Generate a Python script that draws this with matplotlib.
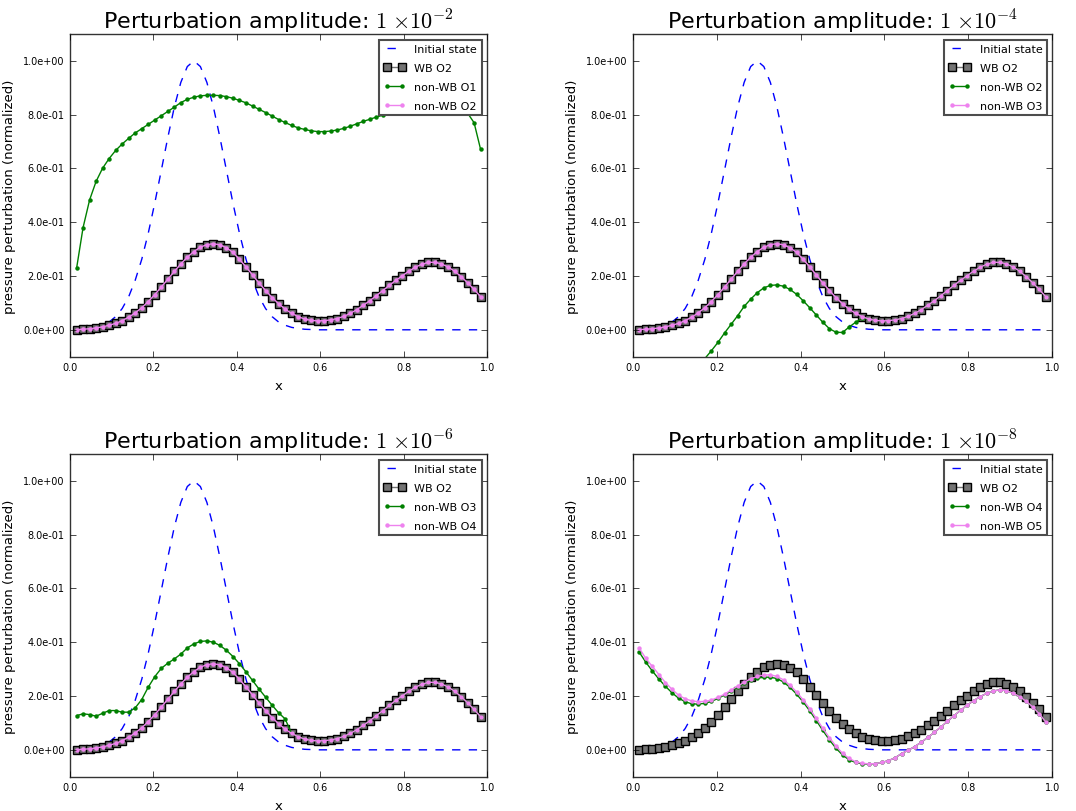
import numpy as np
import matplotlib
matplotlib.use("Agg")
import matplotlib.pyplot as plt
import matplotlib.ticker as mticker

plt.style.use("classic")
plt.rcParams.update({
    "figure.facecolor": "white",
    "savefig.facecolor": "white",
    "mathtext.fontset": "cm",
    "font.family": "DejaVu Sans",
})

# ── Data ──────────────────────────────────────────────────────────────────────
X = [0.0156, 0.0312, 0.0469, 0.0625, 0.0781, 0.0938, 0.1094, 0.1250, 0.1406, 0.1562,
     0.1719, 0.1875, 0.2031, 0.2188, 0.2344, 0.2500, 0.2656, 0.2812, 0.2969, 0.3125,
     0.3281, 0.3438, 0.3594, 0.3750, 0.3906, 0.4062, 0.4219, 0.4375, 0.4531, 0.4688,
     0.4844, 0.5000, 0.5156, 0.5312, 0.5469, 0.5625, 0.5781, 0.5938, 0.6094, 0.6250,
     0.6406, 0.6562, 0.6719, 0.6875, 0.7031, 0.7188, 0.7344, 0.7500, 0.7656, 0.7812,
     0.7969, 0.8125, 0.8281, 0.8438, 0.8594, 0.8750, 0.8906, 0.9062, 0.9219, 0.9375,
     0.9531, 0.9688, 0.9844]

INITIAL = [0.001, 0.002, 0.005, 0.009, 0.017, 0.029, 0.049, 0.079, 0.123, 0.184,
           0.262, 0.359, 0.471, 0.593, 0.715, 0.828, 0.920, 0.979, 1.000, 0.979,
           0.920, 0.828, 0.715, 0.593, 0.471, 0.359, 0.262, 0.184, 0.123, 0.079,
           0.049, 0.029, 0.017, 0.009, 0.005, 0.002, 0.001, 0.0, 0.0, 0.0,
           0.0, 0.0, 0.0, 0.0, 0.0, 0.0, 0.0, 0.0, 0.0, 0.0,
           0.0, 0.0, 0.0, 0.0, 0.0, 0.0, 0.0, 0.0, 0.0, 0.0,
           0.0, 0.0, 0.0]

WB_O2 = [0.001, 0.002, 0.004, 0.007, 0.011, 0.017, 0.024, 0.034, 0.047, 0.063,
         0.082, 0.105, 0.131, 0.159, 0.188, 0.217, 0.245, 0.270, 0.291, 0.307,
         0.317, 0.320, 0.316, 0.305, 0.288, 0.262, 0.234, 0.204, 0.174, 0.146,
         0.120, 0.097, 0.077, 0.061, 0.049, 0.040, 0.035, 0.033, 0.034, 0.037,
         0.042, 0.050, 0.061, 0.075, 0.091, 0.108, 0.127, 0.146, 0.165, 0.184,
         0.201, 0.218, 0.233, 0.244, 0.251, 0.251, 0.245, 0.234, 0.218, 0.198,
         0.175, 0.150, 0.123]

# amplitude 1e-2
NWB_O1 = [0.228, 0.380, 0.483, 0.552, 0.601, 0.637, 0.667, 0.691, 0.712, 0.732,
          0.748, 0.764, 0.780, 0.796, 0.812, 0.828, 0.845, 0.857, 0.865, 0.870,
          0.872, 0.872, 0.871, 0.867, 0.861, 0.853, 0.844, 0.832, 0.820, 0.808,
          0.795, 0.782, 0.771, 0.760, 0.751, 0.745, 0.740, 0.737, 0.737, 0.739,
          0.743, 0.749, 0.757, 0.766, 0.775, 0.783, 0.791, 0.798, 0.805, 0.812,
          0.820, 0.828, 0.836, 0.842, 0.846, 0.848, 0.847, 0.843, 0.836, 0.824,
          0.806, 0.770, 0.671]

# amplitude 1e-4 (first points lie below the visible range)
NWB_O2 = [-0.36, -0.33, -0.30, -0.28, -0.25, -0.23, -0.21, -0.19, -0.16, -0.135,
          -0.107, -0.078, -0.047, -0.012, 0.020, 0.052, 0.087, 0.114, 0.138, 0.156,
          0.165, 0.167, 0.162, 0.150, 0.132, 0.108, 0.082, 0.055, 0.028, 0.004,
          -0.009, -0.010, 0.010, 0.028, 0.043, 0.040, 0.035, 0.033, 0.034, 0.037,
          0.042, 0.050, 0.061, 0.075, 0.091, 0.108, 0.127, 0.146, 0.165, 0.184,
          0.201, 0.218, 0.233, 0.244, 0.251, 0.251, 0.245, 0.234, 0.218, 0.198,
          0.175, 0.150, 0.123]

# amplitude 1e-6
NWB_O3 = [0.127, 0.134, 0.131, 0.125, 0.136, 0.146, 0.146, 0.140, 0.140, 0.156,
          0.187, 0.233, 0.272, 0.303, 0.322, 0.338, 0.356, 0.379, 0.394, 0.403,
          0.405, 0.400, 0.388, 0.370, 0.347, 0.320, 0.290, 0.258, 0.226, 0.196,
          0.166, 0.138, 0.115, 0.062, 0.049, 0.040, 0.035, 0.033, 0.034, 0.037,
          0.042, 0.050, 0.061, 0.075, 0.091, 0.108, 0.127, 0.146, 0.165, 0.184,
          0.201, 0.218, 0.233, 0.244, 0.251, 0.251, 0.245, 0.234, 0.218, 0.198,
          0.175, 0.150, 0.123]

# amplitude 1e-8
NWB_O4 = [0.363, 0.326, 0.293, 0.263, 0.236, 0.212, 0.192, 0.179, 0.171, 0.170,
          0.173, 0.180, 0.191, 0.204, 0.218, 0.233, 0.247, 0.259, 0.266, 0.270,
          0.270, 0.265, 0.252, 0.232, 0.207, 0.178, 0.145, 0.109, 0.072, 0.037,
          0.006, -0.019, -0.037, -0.047, -0.052, -0.053, -0.051, -0.047, -0.040, -0.030,
          -0.014, -0.002, 0.012, 0.028, 0.046, 0.065, 0.085, 0.106, 0.127, 0.147,
          0.166, 0.183, 0.198, 0.210, 0.219, 0.223, 0.220, 0.211, 0.198, 0.181,
          0.160, 0.134, 0.104]

NWB_O5 = [0.378, 0.340, 0.310, 0.280, 0.250, 0.225, 0.203, 0.190, 0.182, 0.179,
          0.180, 0.185, 0.195, 0.207, 0.222, 0.237, 0.251, 0.264, 0.273, 0.278,
          0.279, 0.273, 0.260, 0.240, 0.215, 0.186, 0.153, 0.117, 0.080, 0.045,
          0.014, -0.013, -0.032, -0.044, -0.050, -0.052, -0.051, -0.047, -0.040, -0.030,
          -0.014, -0.002, 0.012, 0.028, 0.046, 0.065, 0.085, 0.106, 0.127, 0.147,
          0.166, 0.183, 0.198, 0.210, 0.219, 0.223, 0.220, 0.211, 0.198, 0.181,
          0.160, 0.134, 0.104]

# (exponent, green series, green label, violet series, violet label)
# in the first three panels the higher-order non-WB run sits on top of WB O2
PANELS = [
    ("-2", NWB_O1, "non-WB O1", WB_O2, "non-WB O2"),
    ("-4", NWB_O2, "non-WB O2", WB_O2, "non-WB O3"),
    ("-6", NWB_O3, "non-WB O3", WB_O2, "non-WB O4"),
    ("-8", NWB_O4, "non-WB O4", NWB_O5, "non-WB O5"),
]

AX_POS = [
    [0.0651, 0.5595, 0.3876, 0.3974],
    [0.5880, 0.5595, 0.3900, 0.3974],
    [0.0651, 0.0422, 0.3876, 0.3975],
    [0.5880, 0.0422, 0.3900, 0.3975],
]

fig = plt.figure(figsize=(10.76, 8.12), dpi=100)

for pos, (ex, green, glab, viol, vlab) in zip(AX_POS, PANELS):
    ax = fig.add_axes(pos)
    ax.plot(X, INITIAL, "b--", lw=1.0, label="Initial state")
    ax.plot(X, WB_O2, color="0.45", lw=1.0, marker="s", ms=5.5,
            mfc="0.45", mec="k", mew=1.0, label="WB O2")
    ax.plot(X, green, color="g", lw=1.0, marker="o", ms=3.2,
            mfc="g", mec="g", mew=0, label=glab)
    ax.plot(X, viol, color="violet", lw=1.0, marker="o", ms=3.2,
            mfc="violet", mec="violet", mew=0, label=vlab)

    ax.set_xlim(0, 1)
    ax.set_ylim(-0.1, 1.1)
    ax.set_xticks([0.0, 0.2, 0.4, 0.6, 0.8, 1.0])
    ax.set_yticks([0.0, 0.2, 0.4, 0.6, 0.8, 1.0])
    ax.xaxis.set_major_formatter(mticker.FormatStrFormatter("%.1f"))
    ax.yaxis.set_major_formatter(mticker.FormatStrFormatter("%.1e"))
    ax.tick_params(labelsize=7)
    for sp in ax.spines.values():
        sp.set_edgecolor("0.2")

    ax.set_xlabel("x", fontsize=9.5)
    ax.set_ylabel("pressure perturbation (normalized)", fontsize=9.5)
    ax.set_title(r"Perturbation amplitude: $1\;{\times}10^{%s}$" % ex,
                 fontsize=16, pad=4)

    leg = ax.legend(loc="upper right", fontsize=8, numpoints=2,
                    borderaxespad=0.5, handlelength=2.0, labelspacing=0.8)
    leg.get_frame().set_edgecolor("0.3")
    leg.get_frame().set_linewidth(1.5)

fig.savefig("out.png", dpi=100, facecolor="white")
